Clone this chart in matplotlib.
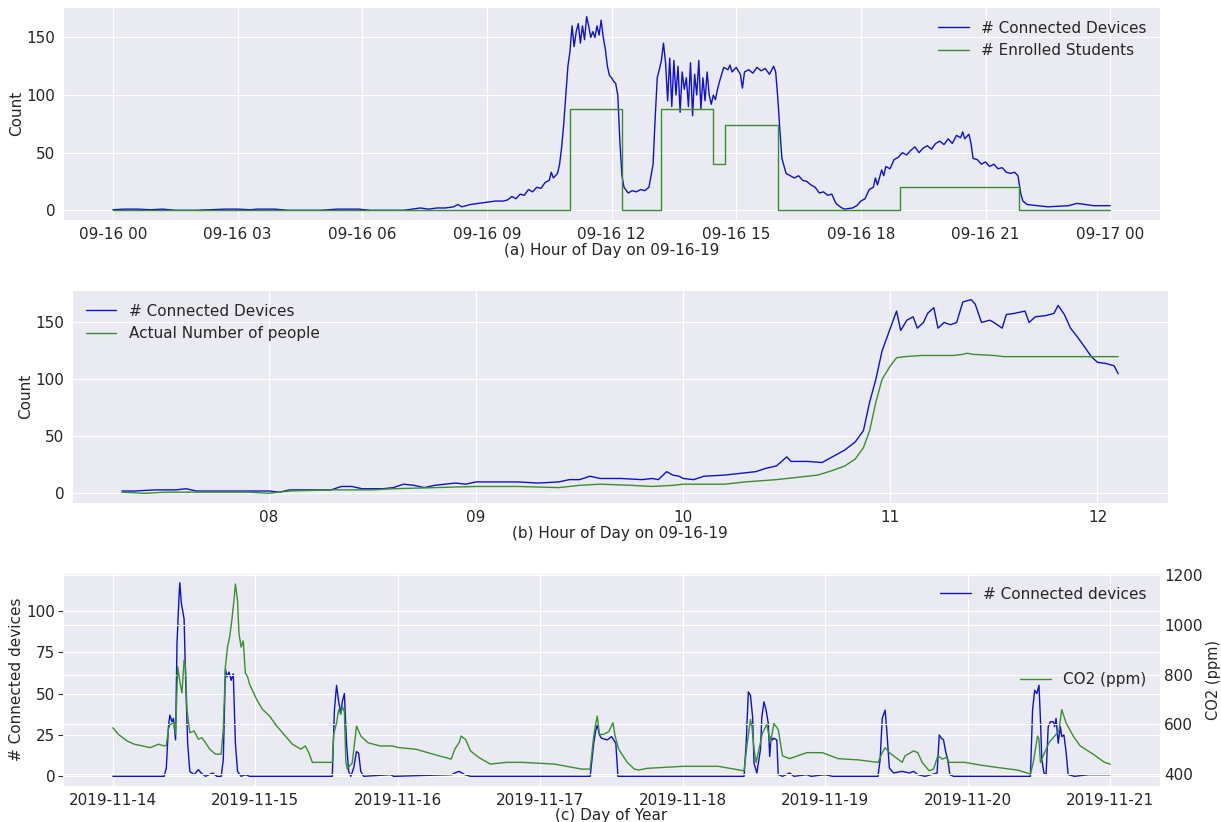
import pandas as pd
import matplotlib
matplotlib.use("Agg")
import matplotlib.pyplot as plt
import matplotlib.dates as mdates
import seaborn as sns

# (a) full day 09-16-19, hours since midnight
a_dev_hours = [0.0, 0.3, 0.6, 0.9, 1.2, 1.5, 2.0, 2.7, 3.0, 3.3, 3.5, 3.9, 4.2, 5.0, 5.4, 5.9, 6.2, 7.0,
               7.2, 7.4, 7.6, 7.8, 8.0, 8.2, 8.3, 8.4, 8.6, 8.8, 9.0, 9.2, 9.4, 9.5, 9.6, 9.7, 9.8, 9.9,
               10.0, 10.1, 10.2, 10.3, 10.4, 10.5, 10.55, 10.6, 10.7, 10.75, 10.8, 10.85, 10.9, 10.95,
               11.0, 11.05, 11.1, 11.15, 11.2, 11.25, 11.3, 11.35, 11.4, 11.45, 11.5, 11.55, 11.6, 11.65,
               11.7, 11.75, 11.8, 11.85, 11.9, 11.95, 12.0, 12.05, 12.1, 12.15, 12.2, 12.25, 12.3, 12.4,
               12.5, 12.6, 12.7, 12.8, 12.9, 13.0, 13.05, 13.1, 13.15, 13.2, 13.25, 13.3, 13.35, 13.4,
               13.45, 13.5, 13.55, 13.6, 13.65, 13.7, 13.75, 13.8, 13.85, 13.9, 13.95, 14.0, 14.05, 14.1,
               14.15, 14.2, 14.25, 14.3, 14.35, 14.4, 14.45, 14.5, 14.55, 14.6, 14.65, 14.7, 14.8, 14.85,
               14.9, 15.0, 15.1, 15.15, 15.2, 15.3, 15.4, 15.5, 15.6, 15.7, 15.8, 15.9, 15.95, 16.0,
               16.05, 16.1, 16.2, 16.3, 16.4, 16.5, 16.6, 16.7, 16.8, 16.9, 17.0, 17.1, 17.2, 17.3,
               17.35, 17.4, 17.5, 17.6, 17.8, 17.9, 18.0, 18.1, 18.2, 18.3, 18.35, 18.4, 18.5, 18.55,
               18.6, 18.7, 18.8, 18.9, 19.0, 19.1, 19.2, 19.3, 19.4, 19.5, 19.6, 19.7, 19.8, 19.9, 20.0,
               20.1, 20.2, 20.3, 20.4, 20.45, 20.5, 20.6, 20.65, 20.7, 20.8, 20.9, 21.0, 21.1, 21.2,
               21.3, 21.4, 21.5, 21.6, 21.7, 21.78, 21.85, 21.9, 22.0, 22.5, 23.0, 23.2, 23.4, 23.6, 24.0]
a_devices = [0.5, 1, 1, 0.5, 1, 0, 0, 1, 1, 0.5, 1, 1, 0, 0, 1, 1, 0, 0,
             1, 2, 1, 2, 2, 3, 5, 3, 5, 6, 7, 8, 8, 9, 12, 10, 14, 13,
             18, 16, 20, 19, 24, 26, 33, 28, 32, 40, 55, 75, 100, 125,
             138, 160, 142, 155, 162, 145, 160, 148, 168, 160, 150, 155, 150, 160,
             152, 165, 150, 140, 125, 117, 115, 112, 110, 100, 60, 30, 20, 15,
             17, 16, 18, 17, 20, 40, 80, 115, 122, 130, 145, 128, 95, 132,
             90, 130, 100, 125, 85, 120, 105, 115, 90, 128, 82, 118, 100, 130,
             88, 115, 95, 120, 100, 92, 100, 96, 105, 112, 118, 124, 122, 126,
             120, 124, 118, 106, 120, 122, 119, 124, 121, 123, 118, 125, 120, 98,
             70, 45, 32, 30, 28, 30, 26, 25, 22, 20, 15, 16, 13, 14,
             10, 6, 3, 1, 2, 4, 8, 10, 18, 20, 28, 22, 35, 30,
             38, 36, 44, 46, 50, 48, 52, 55, 50, 54, 56, 53, 58, 60, 57,
             62, 58, 65, 63, 68, 62, 66, 58, 45, 44, 40, 42, 38, 40,
             36, 37, 33, 32, 33, 30, 14, 8, 5, 3, 4, 6, 5, 4, 4]
a_enr_hours = [0.0, 11.0, 12.25, 13.2, 14.45, 14.72, 16.0, 18.95, 21.8, 24.0]
a_enrolled = [0, 88, 0, 88, 40, 74, 0, 20, 0, 0]

# (b) morning of 09-16-19, hours since midnight
b_dev_hours = [7.29, 7.35, 7.45, 7.55, 7.6, 7.65, 7.8, 7.9, 8.0, 8.05, 8.1, 8.2, 8.3, 8.35, 8.4, 8.45,
               8.55, 8.6, 8.65, 8.7, 8.75, 8.8, 8.85, 8.9, 8.95, 9.0, 9.1, 9.2, 9.3, 9.4, 9.45, 9.5,
               9.55, 9.6, 9.7, 9.8, 9.85, 9.88, 9.92, 9.95, 9.98, 10.0, 10.05, 10.1, 10.2, 10.3, 10.35,
               10.4, 10.45, 10.5, 10.52, 10.6, 10.67, 10.72, 10.78, 10.83, 10.87, 10.9, 10.93, 10.96,
               10.99, 11.02, 11.03, 11.05, 11.08, 11.11, 11.13, 11.16, 11.18, 11.21, 11.23, 11.26,
               11.29, 11.32, 11.35, 11.39, 11.41, 11.44, 11.48, 11.5, 11.54, 11.56, 11.6, 11.65, 11.67,
               11.7, 11.75, 11.79, 11.81, 11.84, 11.87, 11.9, 11.94, 11.97, 12.0, 12.04, 12.08, 12.1]
b_devices = [2, 2, 3, 3, 4, 2, 2, 2, 2, 1, 3, 3, 3, 6, 6, 4,
             4, 5, 8, 7, 5, 7, 8, 9, 8, 10, 10, 10, 9, 10, 12, 12,
             15, 13, 13, 12, 13, 12, 19, 16, 15, 13, 12, 15, 16, 18, 19,
             22, 24, 32, 28, 28, 27, 32, 38, 45, 55, 80, 100, 125,
             140, 155, 160, 143, 152, 155, 145, 150, 158, 163, 145, 150,
             148, 150, 168, 170, 166, 150, 152, 150, 145, 157, 158, 160, 150,
             155, 156, 158, 165, 157, 145, 138, 128, 120, 115, 114, 112, 105]
b_ppl_hours = [7.29, 7.4, 7.5, 7.7, 7.9, 8.0, 8.1, 8.3, 8.5, 8.6, 8.8, 9.0, 9.2, 9.4, 9.5, 9.6, 9.75,
               9.85, 9.95, 10.0, 10.2, 10.3, 10.45, 10.55, 10.65, 10.72, 10.78, 10.83, 10.87, 10.9,
               10.93, 10.96, 11.0, 11.03, 11.07, 11.15, 11.3, 11.35, 11.37, 11.4, 11.5, 11.55, 12.1]
b_people = [1, 0, 1, 1, 1, 0, 2, 3, 3, 4, 5, 6, 6, 5, 7, 8, 7,
            6, 7, 8, 8, 10, 12, 14, 16, 20, 24, 30, 40, 55,
            80, 100, 112, 119, 120, 121, 121, 122, 123, 122, 121, 120, 120]

# (c) 2019-11-14 .. 2019-11-21, days since 11-14 00:00
c_dev_days = [0.0, 0.36, 0.375, 0.39, 0.4, 0.415, 0.425, 0.44, 0.45, 0.465, 0.47, 0.48, 0.49, 0.5,
              0.51, 0.525, 0.54, 0.57, 0.6, 0.62, 0.65, 0.7, 0.73, 0.76, 0.775, 0.79, 0.8, 0.815, 0.83,
              0.845, 0.86, 0.875, 0.9, 0.93, 0.96, 1.54, 1.555, 1.57, 1.585, 1.6, 1.61, 1.625, 1.64,
              1.655, 1.67, 1.69, 1.71, 1.725, 1.74, 1.76, 1.95, 1.97, 2.38, 2.4, 2.43, 2.47, 2.51,
              3.35, 3.375, 3.39, 3.4, 3.415, 3.43, 3.47, 3.5, 3.515, 3.53, 3.545, 4.43, 4.445, 4.46,
              4.475, 4.49, 4.5, 4.52, 4.545, 4.555, 4.57, 4.585, 4.6, 4.61, 4.62, 4.63, 4.64, 4.66,
              4.67, 4.7, 4.75, 4.78, 4.87, 4.9, 5.0, 5.05, 5.37, 5.385, 5.4, 5.42, 5.43, 5.45, 5.48,
              5.54, 5.59, 5.62, 5.65, 5.7, 5.785, 5.8, 5.815, 5.83, 5.845, 5.86, 5.875, 5.9, 6.44,
              6.455, 6.47, 6.485, 6.5, 6.51, 6.52, 6.535, 6.55, 6.565, 6.58, 6.6, 6.61, 6.62, 6.635,
              6.65, 6.66, 6.675, 6.69, 6.705, 6.75, 6.85, 7.0]
c_devices = [0, 0, 5, 30, 37, 33, 35, 22, 80, 110, 117, 105, 100, 95,
             60, 20, 3, 1, 4, 2, 0, 2, 0, 0, 10, 65, 60, 63, 58,
             62, 20, 3, 0, 1, 0, 0, 40, 55, 45, 38, 45, 50, 20,
             3, 0, 5, 15, 14, 3, 0, 1, 0, 1, 2, 3, 1, 0,
             0, 20, 28, 31, 25, 23, 22, 24, 22, 20, 0, 0, 20, 51,
             49, 36, 8, 2, 16, 36, 45, 40, 32, 12, 24, 22, 23, 22,
             1, 0, 2, 0, 1, 0, 1, 0, 0, 10, 35, 40, 30, 5, 2,
             3, 2, 3, 1, 0, 2, 25, 23, 22, 15, 10, 1, 0, 0,
             40, 52, 50, 55, 35, 10, 2, 1, 30, 33, 33, 30, 35, 20,
             30, 24, 25, 15, 1, 0, 1, 1]
c_co2_days = [0.0, 0.04, 0.1, 0.15, 0.21, 0.26, 0.3, 0.32, 0.36, 0.375, 0.39, 0.4, 0.43, 0.44, 0.455,
              0.47, 0.485, 0.5, 0.51, 0.52, 0.54, 0.57, 0.6, 0.625, 0.65, 0.68, 0.72, 0.76, 0.775,
              0.79, 0.805, 0.82, 0.835, 0.85, 0.86, 0.875, 0.885, 0.9, 0.915, 0.93, 0.945, 0.96,
              1.01, 1.05, 1.1, 1.15, 1.21, 1.26, 1.32, 1.35, 1.375, 1.4, 1.46, 1.54, 1.55, 1.57,
              1.585, 1.6, 1.61, 1.625, 1.635, 1.645, 1.68, 1.71, 1.72, 1.74, 1.79, 1.875, 1.96,
              2.01, 2.125, 2.21, 2.29, 2.375, 2.4, 2.43, 2.445, 2.46, 2.475, 2.49, 2.51, 2.57, 2.65,
              2.76, 2.875, 3.1, 3.29, 3.35, 3.375, 3.39, 3.4, 3.415, 3.44, 3.48, 3.51, 3.525, 3.55,
              3.61, 3.66, 3.69, 3.75, 4.0, 4.25, 4.43, 4.45, 4.475, 4.485, 4.5, 4.515, 4.53, 4.56,
              4.59, 4.615, 4.64, 4.67, 4.7, 4.75, 4.87, 4.98, 5.09, 5.23, 5.37, 5.4, 5.42, 5.45,
              5.54, 5.56, 5.62, 5.65, 5.68, 5.73, 5.76, 5.79, 5.81, 5.82, 5.85, 5.87, 5.98, 6.09,
              6.2, 6.35, 6.44, 6.46, 6.49, 6.5, 6.51, 6.54, 6.57, 6.61, 6.64, 6.65, 6.66, 6.69,
              6.74, 6.79, 6.88, 6.96, 7.0]
c_co2 = [586, 559, 533, 520, 513, 506, 515, 520, 513, 515, 579, 599, 606, 560, 832,
         772, 726, 858, 830, 659, 566, 573, 540, 546, 526, 500, 480, 480, 580,
         832, 912, 952, 1018, 1098, 1164, 1098, 965, 910, 935, 805, 792, 760,
         699, 660, 633, 593, 553, 520, 500, 513, 486, 447, 447, 447, 560, 606,
         659, 640, 672, 650, 450, 420, 445, 593, 580, 553, 526, 513, 513,
         506, 500, 486, 473, 460, 500, 526, 553, 545, 540, 520, 493, 466, 440,
         447, 447, 440, 420, 420, 553, 606, 633, 560, 559, 570, 606, 553, 500,
         447, 420, 416, 423, 431, 431, 413, 513, 619, 593, 500, 447, 486, 566,
         599, 526, 603, 579, 473, 462, 486, 486, 462, 457, 447, 486, 506, 486,
         447, 473, 493, 486, 447, 413, 420, 473, 466, 460, 466, 447, 447, 436,
         427, 416, 400, 447, 553, 540, 447, 486, 526, 553, 573, 619, 659, 606,
         553, 513, 480, 447, 440]

BLUE = "#1010d0"
GREEN = "#3a8f2e"

sns.set_style("darkgrid")
plt.rcParams["font.family"] = ["DejaVu Sans"]
plt.rcParams["font.size"] = 11
plt.rcParams["xtick.major.pad"] = 1.5
plt.rcParams["ytick.major.pad"] = 2
plt.rcParams["legend.frameon"] = False

fig = plt.figure(figsize=(12.21, 8.22), dpi=100)

day_a = pd.Timestamp("2019-09-16")
day_c = pd.Timestamp("2019-11-14")

# (a)
ax1 = fig.add_axes([0.0516, 0.7324, 0.8985, 0.2591])
ax1.plot(day_a + pd.to_timedelta(a_dev_hours, unit="h"), a_devices, color=BLUE, lw=1,
         label="# Connected Devices")
ax1.plot(day_a + pd.to_timedelta(a_enr_hours, unit="h"), a_enrolled, color=GREEN, lw=1,
         drawstyle="steps-post", label="# Enrolled Students")
ax1.xaxis.set_major_locator(mdates.HourLocator(byhour=range(0, 24, 3)))
ax1.xaxis.set_major_formatter(mdates.DateFormatter("%m-%d %H"))
ax1.set_yticks([0, 50, 100, 150])
ax1.set_ylabel("Count", labelpad=2)
ax1.set_xlabel("(a) Hour of Day on 09-16-19", labelpad=1)
ax1.legend(loc="upper right", fontsize=11)

# (b)
ax2 = fig.add_axes([0.059, 0.3881, 0.8976, 0.2591])
ax2.plot(day_a + pd.to_timedelta(b_dev_hours, unit="h"), b_devices, color=BLUE, lw=1,
         label="# Connected Devices")
ax2.plot(day_a + pd.to_timedelta(b_ppl_hours, unit="h"), b_people, color=GREEN, lw=1,
         label="Actual Number of people")
ax2.xaxis.set_major_locator(mdates.HourLocator())
ax2.xaxis.set_major_formatter(mdates.DateFormatter("%H"))
ax2.set_yticks([0, 50, 100, 150])
ax2.set_ylabel("Count", labelpad=2)
ax2.set_xlabel("(b) Hour of Day on 09-16-19", labelpad=1)
ax2.legend(loc="upper left", fontsize=11)

# (c)
ax3 = fig.add_axes([0.0516, 0.0438, 0.8985, 0.2591])
ax3.plot(day_c + pd.to_timedelta(c_dev_days, unit="D"), c_devices, color=BLUE, lw=1,
         label="# Connected devices")
ax3.set_yticks([0, 25, 50, 75, 100])
ax3.set_ylabel("# Connected devices", labelpad=2)
ax3.set_xlabel("(c) Day of Year", labelpad=0)
ax3.xaxis.set_major_locator(mdates.DayLocator())
ax3.xaxis.set_major_formatter(mdates.DateFormatter("%Y-%m-%d"))
ax3.legend(loc="upper right", fontsize=11)

ax4 = ax3.twinx()
ax4.plot(day_c + pd.to_timedelta(c_co2_days, unit="D"), c_co2, color=GREEN, lw=1,
         label="CO2 (ppm)")
ax4.set_ylim(352, 1208)
ax4.set_yticks([400, 600, 800, 1000, 1200])
ax4.tick_params(axis="y", length=0, pad=3)
ax4.set_ylabel("CO2 (ppm)", labelpad=2, fontsize=10.5)
ax4.legend(loc="center right", fontsize=11)

fig.savefig("out.png", dpi=100)
